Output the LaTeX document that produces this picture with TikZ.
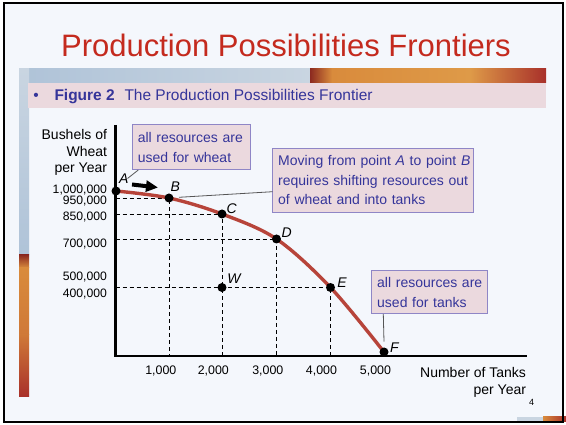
\documentclass[tikz,border=0pt]{standalone}
\usepackage{fontspec}
\setmainfont{Liberation Sans}
\usetikzlibrary{arrows.meta,calc}
\definecolor{titlered}{HTML}{C42A1E}
\definecolor{navy}{HTML}{35359A}
\definecolor{boxfill}{HTML}{EBD9DE}
\definecolor{boxline}{HTML}{8F86C6}
\definecolor{curvered}{HTML}{B7443A}
\definecolor{slateA}{HTML}{AFC3D8}
\definecolor{slateB}{HTML}{C9D5E1}
\definecolor{darkrust}{HTML}{8C2A20}
\definecolor{orangeA}{HTML}{D98B3C}
\definecolor{orangeB}{HTML}{DE9A48}
\definecolor{redend}{HTML}{A8302A}
\definecolor{bgcol}{HTML}{F4F7FC}
\definecolor{leadergray}{HTML}{555555}
\begin{document}
\begin{tikzpicture}[x=1pt,y=-1pt,
  every node/.style={inner sep=0pt, outer sep=0pt},
  dot/.style={circle, fill=black, minimum size=9pt, inner sep=0pt},
  ptlabel/.style={font=\fontsize{14}{16}\selectfont\itshape, anchor=base west},
  ylab/.style={font=\fontsize{12.2}{14}\selectfont, anchor=base east},
  xlab/.style={font=\fontsize{12.4}{14}\selectfont, anchor=base},
  guide/.style={dash pattern=on 4pt off 3pt, line width=0.9pt},
  axisline/.style={line width=2.6pt},
  frontier/.style={line width=3.4pt, draw=curvered},
  callout/.style={draw=boxline, fill=boxfill, line width=1pt, text=navy,
    font=\fontsize{14}{19.6}\selectfont, align=left, inner xsep=5.5pt, inner ysep=0pt, anchor=north west},
  leader/.style={draw=leadergray, line width=0.8pt},
  fatarrow/.style={line width=4pt, -{Triangle[length=12pt,width=11pt]}}
]
\useasboundingbox (0,0) rectangle (566,425);
% background and frame
\fill[white] (0,0) rectangle (566,425);
\fill[bgcol] (4,3) rectangle (563,422);
% banner strip
\shade[left color=slateA, right color=slateB] (19,69) rectangle (310,83);
\shade[left color=darkrust, right color=orangeA] (310,69) rectangle (332,83);
\shade[left color=orangeA, right color=orangeB] (332,69) rectangle (470,83);
\shade[left color=orangeB, right color=redend] (470,69) rectangle (546,83);
% left strip
\shade[top color=slateB, bottom color=slateA] (19,69) rectangle (29,255);
\shade[top color=darkrust, bottom color=orangeA] (19,255) rectangle (29,268);
\shade[top color=orangeA, bottom color=orangeA!80!redend] (19,268) rectangle (29,335);
\shade[top color=orangeA!80!redend, bottom color=redend] (19,335) rectangle (29,397);
% bottom right decoration
\fill[slateB] (517,417) rectangle (543,421);
\shade[left color=orangeA, right color=redend] (543,417) rectangle (566,421);
% pink bar
\fill[boxfill] (28,83) rectangle (546,108);
\draw[line width=1.6pt] (4,3) rectangle (563,422);

% title and figure caption
\node[anchor=base, font=\fontsize{31}{37}\selectfont, text=titlered] (title) at (286,57) {Production Possibilities Frontiers};
\node[anchor=base, font=\fontsize{15.5}{18}\selectfont, text=navy] (bullet) at (36,100.5) {\textbullet};
\node[anchor=base west, font=\fontsize{15.5}{18}\selectfont\bfseries, text=navy] (fignum) at (54.5,100.5) {Figure 2};
\node[anchor=base west, font=\fontsize{15.5}{18}\selectfont, text=navy] (figtitle) at (124.5,100.5) {The Production Possibilities Frontier};

% axes
\coordinate (O) at (115.5,356);
\coordinate (ytop) at (115.5,125);
\coordinate (xend) at (527,356);

% points
\coordinate (pA) at (116,191);
\coordinate (pB) at (169,198);
\coordinate (pC) at (222,214);
\coordinate (pD) at (276.5,239);
\coordinate (pE) at (330.5,287.5);
\coordinate (pF) at (384,352);
\coordinate (pW) at (222,287.5);

% guides
\draw[guide] (pB -| O) -- (pB) -- (pB |- O);
\draw[guide] (pC -| O) -- (pC) -- (pC |- O);
\draw[guide] (pD -| O) -- (pD) -- (pD |- O);
\draw[guide] (pE -| O) -- (pE) -- (pE |- O);

\draw[axisline] (ytop) -- (O) -- (xend);

% frontier
\draw[frontier] plot[smooth, tension=0.55] coordinates {(pA) (pB) (pC) (pD) (pE) (pF)};

\node[dot] (A) at (pA) {};
\node[dot] (B) at (pB) {};
\node[dot] (C) at (pC) {};
\node[dot] (D) at (pD) {};
\node[dot] (E) at (pE) {};
\node[dot] (F) at (pF) {};
\node[dot] (W) at (pW) {};

% point labels
\node[ptlabel] (Alab) at (119,184) {A};
\node[ptlabel] (Blab) at (170.5,192) {B};
\node[ptlabel] (Clab) at (226.5,213.3) {C};
\node[ptlabel] (Dlab) at (281.5,237.7) {D};
\node[ptlabel] (Wlab) at (227.3,283.3) {W};
\node[ptlabel] (Elab) at (337.3,287.3) {E};
\node[ptlabel] (Flab) at (390,352.3) {F};

% arrow A to B
\coordinate (arrtail) at (132,184.5);
\coordinate (arrhead) at (158,187.5);
\draw[fatarrow] (arrtail) -- (arrhead);

% y axis labels
\node[anchor=north east, align=right, font=\fontsize{14}{16.7}\selectfont] (ytitle) at (107,129.4) {Bushels of\\Wheat\\per Year};
\node[ylab] (y1000) at (107,193.6) {1,000,000};
\node[ylab] (y950) at (107,205) {950,000};
\node[ylab] (y850) at (107,221) {850,000};
\node[ylab] (y700) at (107,248) {700,000};
\node[ylab] (y500) at (107,281) {500,000};
\node[ylab] (y400) at (107,298) {400,000};

% x axis labels
\node[xlab] (x1) at (160.8,374) {1,000};
\node[xlab] (x2) at (213.3,374) {2,000};
\node[xlab] (x3) at (267.8,374) {3,000};
\node[xlab] (x4) at (321.5,374) {4,000};
\node[xlab] (x5) at (375.5,374) {5,000};
\node[anchor=north east, align=right, font=\fontsize{14}{16.6}\selectfont] (xtitle) at (526,367.6) {Number of Tanks\\per Year};
\node[anchor=base, font=\fontsize{9}{11}\selectfont] (pagenum) at (531.7,405.7) {4};

% callouts
\node[callout, text width=106.7pt, minimum height=45pt] (box1) at (132.3,125) {\mbox{all resources are}\\\mbox{used for wheat}};
\node[callout, text width=189.6pt, minimum height=64pt] (box2) at (272.7,148.3) {\mbox{Moving from point \textit{A} to point \textit{B}}\\\mbox{requires shifting resources out}\\\mbox{of wheat and into tanks}};
\node[callout, text width=105pt, minimum height=43.3pt] (box3) at (371.7,270.7) {\mbox{all resources are}\\\mbox{used for tanks}};

% leaders
\coordinate (Aend) at (127.5,178.5);
\draw[leader] ([xshift=6pt]box1.south west) -- (Aend);
\draw[leader] ($(B.center)+(10,-0.7)$) -- ([yshift=-11.4pt]box2.west);
\draw[leader] ([xshift=11.6pt]box3.south west) -- ($(F.center)+(0,-10.3)$);
\end{tikzpicture}
\end{document}
